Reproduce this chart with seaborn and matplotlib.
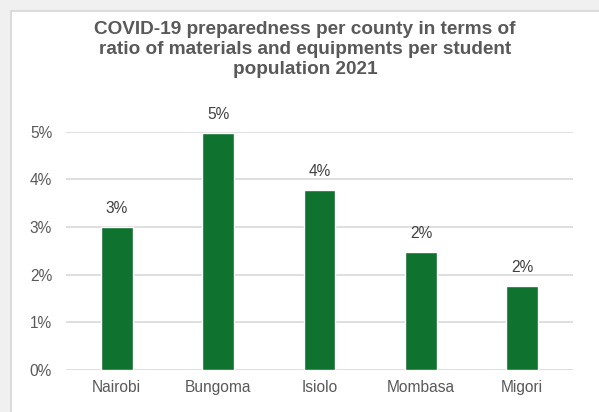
import matplotlib
matplotlib.use("Agg")
import matplotlib.pyplot as plt
from matplotlib.patches import Rectangle
from matplotlib.ticker import PercentFormatter
import seaborn as sns
import pandas as pd

counties = ["Nairobi", "Bungoma", "Isiolo", "Mombasa", "Migori"]
ratios = [0.0299, 0.0497, 0.0378, 0.0248, 0.0176]
y_ticks = [0.00, 0.01, 0.02, 0.03, 0.04, 0.05]
title = ("COVID-19 preparedness per county in terms of\n"
         "ratio of materials and equipments per student\n"
         "population 2021")

sns.set_theme(style="white")
plt.rcParams["font.family"] = ["Liberation Sans", "DejaVu Sans"]

df = pd.DataFrame({"county": counties, "ratio": ratios})

fig = plt.figure(figsize=(5.99, 4.12), dpi=100)
fig.patch.set_facecolor("#f0f0f0")
# white chart panel with a thin border, kept behind the axes
fig.patches.append(Rectangle((11 / 599, -0.05), 1.0, 1 - 11 / 412 + 0.05,
                             transform=fig.transFigure, facecolor="white",
                             edgecolor="#d6d6d6", linewidth=1.2, zorder=-5))

ax = fig.add_axes([66 / 599, 1 - 370 / 412, (573 - 66) / 599, (370 - 131.7) / 412])
ax.set_zorder(2)
ax.set_facecolor("none")

sns.barplot(data=df, x="county", y="ratio", color="#10722f", saturation=1,
            width=0.315, ax=ax, zorder=3)

ax.set_ylim(0, 0.05)
ax.set_yticks(y_ticks)
ax.yaxis.set_major_formatter(PercentFormatter(1.0, decimals=0))
ax.grid(axis="y", color="#d9d9d9", linewidth=1.2, zorder=0)
ax.grid(axis="x", visible=False)
for s in ax.spines.values():
    s.set_visible(False)
ax.set_xlabel("")
ax.set_ylabel("")
ax.tick_params(axis="y", length=0, pad=10, labelsize=11.2, labelcolor="#595959")
ax.tick_params(axis="x", length=0, pad=7, labelsize=11.2, labelcolor="#595959")

ax.bar_label(ax.containers[0], labels=[f"{v * 100:.0f}%" for v in ratios],
             padding=8, fontsize=11.2, color="#404040")

fig.text(0.509, 1 - 21 / 412, title, ha="center", va="top", fontsize=13.7,
         fontweight="bold", color="#595959", linespacing=1.25, zorder=5)

fig.savefig("out.png", dpi=100, facecolor=fig.get_facecolor())
